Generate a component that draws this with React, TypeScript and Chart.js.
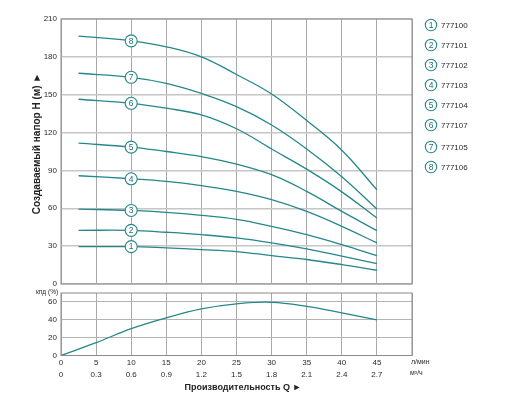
import { useEffect, useRef } from "react";
import { Chart, registerables } from "chart.js";

Chart.register(...registerables);

// ---------- data ----------
const flowPoints = [2.5, 10, 15, 20, 25, 30, 35, 40, 45]; // л/мин
const head1 = [29.6, 29.6, 28.6, 27.3, 25.7, 22.5, 19.4, 15.4, 10.9];
const head2 = [42.5, 42.5, 41, 39.1, 36.5, 32.6, 27.8, 22, 16.2];
const head3 = [59.4, 58.3, 56.8, 54.4, 51.2, 45.7, 39.1, 31.2, 22.5];
const head4 = [85.8, 83.4, 81.3, 77.9, 73.4, 66.8, 57.5, 45.7, 32.6];
const head5 = [111.6, 108.5, 105, 101, 95, 86.6, 73.4, 57.5, 42.3];
const head6 = [146.4, 143.2, 139.3, 134, 123, 107, 91, 73, 52.3];
const head7 = [167, 163.8, 159, 151, 140.5, 126, 107, 85, 59.4];
const head8 = [196.4, 192.7, 188, 180, 166, 150.6, 129.5, 106, 74.7];
const headSeries = [head1, head2, head3, head4, head5, head6, head7, head8];
const curveNumbers = ["1", "2", "3", "4", "5", "6", "7", "8"];
const modelCodes = ["777100", "777101", "777102", "777103", "777104", "777107", "777105", "777106"];
const markerFlow = 10;

const effFlow = [0, 5, 10, 15, 20, 25, 30, 35, 40, 45];
const effValues = [0, 14.4, 30, 42.2, 52.2, 57.8, 59.6, 55.1, 47.8, 40];

const flowMax = 50;
const flowStep = 5;
const headMax = 210;
const headStep = 30;
const effMax = 70;
const effStep = 10;
const effLabelStep = 20;
const lpmToM3h = 0.06;

const yTitle = "Создаваемый напор H (м) ►";
const xTitle = "Производительность Q ►";
const effTitle = "кпд (%)";
const unitLpm = "л/мин";
const unitM3h = "м³/ч";

// ---------- style ----------
const FONT = "'Liberation Sans', Arial, sans-serif";
const TEAL = "#24878a";
const VGRID = "#a9a9a9";
const HGRID = "#c6c6c6";
const FRAME = "#8a8a8a";
const TEXT = "#2a2a2a";

const framePlugin = {
  id: "frame",
  afterDraw(chart: any) {
    const { ctx, chartArea: a } = chart;
    ctx.save();
    ctx.strokeStyle = FRAME;
    ctx.lineWidth = 1;
    ctx.strokeRect(a.left, a.top, a.right - a.left, a.bottom - a.top);
    ctx.restore();
  },
};

function drawBadge(ctx: any, x: number, y: number, r: number, txt: string) {
  ctx.beginPath();
  ctx.arc(x, y, r, 0, Math.PI * 2);
  ctx.fillStyle = "#ffffff";
  ctx.fill();
  ctx.lineWidth = 1.1;
  ctx.strokeStyle = TEAL;
  ctx.stroke();
  ctx.fillStyle = "#1f6f70";
  ctx.font = `8.5px ${FONT}`;
  ctx.textAlign = "center";
  ctx.textBaseline = "middle";
  ctx.fillText(txt, x, y + 0.5);
}

const markerPlugin = {
  id: "markers",
  afterDatasetsDraw(chart: any) {
    const { ctx } = chart;
    const idx = flowPoints.indexOf(markerFlow);
    ctx.save();
    chart.data.datasets.forEach((_d: any, i: number) => {
      const p = chart.getDatasetMeta(i).data[idx];
      if (p) drawBadge(ctx, p.x, p.y, 6, curveNumbers[i]);
    });
    ctx.restore();
  },
};

const legendPlugin = {
  id: "sideLegend",
  afterDraw(chart: any) {
    const { ctx, chartArea: a } = chart;
    ctx.save();
    modelCodes.forEach((code, i) => {
      const cy = a.top + 6 + i * 20 + (i >= 6 ? 2 : 0);
      const cx = a.right + 19;
      drawBadge(ctx, cx, cy, 5.7, curveNumbers[i]);
      ctx.fillStyle = TEXT;
      ctx.font = `8px ${FONT}`;
      ctx.textAlign = "left";
      ctx.textBaseline = "middle";
      ctx.fillText(code, cx + 10, cy + 0.5);
    });
    // rotated y-axis title
    ctx.translate(a.left - 24, (a.top + a.bottom) / 2 - 8);
    ctx.rotate(-Math.PI / 2);
    ctx.fillStyle = "#222";
    ctx.font = `bold 10px ${FONT}`;
    ctx.textAlign = "center";
    ctx.textBaseline = "middle";
    ctx.fillText(yTitle, 0, 0);
    ctx.restore();
  },
};

const effTextPlugin = {
  id: "effText",
  afterDraw(chart: any) {
    const { ctx, chartArea: a } = chart;
    ctx.save();
    ctx.fillStyle = TEXT;
    ctx.textBaseline = "middle";
    ctx.textAlign = "left";
    ctx.font = `6.5px ${FONT}`;
    ctx.fillText(effTitle, a.left - 25, a.top - 1);
    ctx.font = `7px ${FONT}`;
    ctx.fillText(unitLpm, a.right - 1, a.bottom + 6.5);
    ctx.fillText(unitM3h, a.right - 2, a.bottom + 17.5);
    ctx.fillStyle = "#222";
    ctx.font = `bold 9px ${FONT}`;
    ctx.textAlign = "center";
    ctx.fillText(xTitle, (a.left + a.right) / 2 + 6.5, a.bottom + 32.5);
    ctx.restore();
  },
};

export default function App() {
  const headRef = useRef<HTMLCanvasElement>(null);
  const effRef = useRef<HTMLCanvasElement>(null);

  useEffect(() => {
    Chart.defaults.font.family = FONT;
    Chart.defaults.color = TEXT;

    const headChart = new Chart(headRef.current!, {
      type: "line",
      data: {
        datasets: headSeries.map((s, i) => ({
          label: modelCodes[i],
          data: flowPoints.map((q, j) => ({ x: q, y: s[j] })),
          borderColor: TEAL,
          borderWidth: 1.3,
          pointRadius: 0,
          fill: false,
          tension: 0.4,
        })),
      },
      options: {
        responsive: false,
        animation: false,
        layout: { padding: { left: 31, top: 19, right: 100, bottom: 122 } },
        plugins: { legend: { display: false }, tooltip: { enabled: false } },
        scales: {
          x: {
            type: "linear",
            min: 0,
            max: flowMax,
            ticks: { display: false, stepSize: flowStep },
            grid: { color: VGRID, lineWidth: 1, drawTicks: false },
            border: { display: false },
            afterFit: (s: any) => {
              s.height = 0;
            },
          },
          y: {
            min: 0,
            max: headMax,
            ticks: { stepSize: headStep, font: { size: 8 }, padding: 4, color: TEXT },
            grid: { color: HGRID, lineWidth: 1.5, drawTicks: false },
            border: { display: false },
            afterFit: (s: any) => {
              s.width = 30;
            },
          },
        },
      },
      plugins: [framePlugin, markerPlugin, legendPlugin],
    });

    const effChart = new Chart(effRef.current!, {
      type: "line",
      data: {
        datasets: [
          {
            label: effTitle,
            data: effFlow.map((q, j) => ({ x: q, y: effValues[j] })),
            borderColor: TEAL,
            borderWidth: 1.3,
            pointRadius: 0,
            fill: false,
            tension: 0.4,
          },
        ],
      },
      options: {
        responsive: false,
        animation: false,
        layout: { padding: { left: 31, top: 293, right: 100, bottom: 8.5 } },
        plugins: { legend: { display: false }, tooltip: { enabled: false } },
        scales: {
          x: {
            type: "linear",
            position: "bottom",
            weight: 0,
            min: 0,
            max: flowMax,
            ticks: {
              stepSize: flowStep,
              font: { size: 8 },
              padding: 2,
              color: TEXT,
              maxRotation: 0,
              callback: (v: any) => (v === flowMax ? "" : String(v)),
            },
            grid: { color: VGRID, lineWidth: 1, drawTicks: false },
            border: { display: false },
            afterFit: (s: any) => {
              s.height = 12;
            },
          },
          x2: {
            type: "linear",
            position: "bottom",
            weight: 1,
            min: 0,
            max: flowMax,
            ticks: {
              stepSize: flowStep,
              font: { size: 8 },
              padding: 2,
              color: TEXT,
              maxRotation: 0,
              callback: (v: any) =>
                v === flowMax ? "" : v === 0 ? "0" : (v * lpmToM3h).toFixed(1),
            },
            grid: { display: false, drawTicks: false },
            border: { display: false },
            afterFit: (s: any) => {
              s.height = 30;
            },
          },
          y: {
            min: 0,
            max: effMax,
            ticks: {
              stepSize: effStep,
              font: { size: 8 },
              padding: 4,
              color: TEXT,
              callback: (v: any) => (v % effLabelStep === 0 && v !== effMax ? String(v) : ""),
            },
            grid: { color: "#b4b4b4", lineWidth: 1, drawTicks: false },
            border: { display: false },
            afterFit: (s: any) => {
              s.width = 30;
            },
          },
        },
      },
      plugins: [framePlugin, effTextPlugin],
    });

    return () => {
      headChart.destroy();
      effChart.destroy();
    };
  }, []);

  return (
    <div style={{ position: "fixed", left: 0, top: 0, width: 512, height: 406, background: "#fff" }}>
      <canvas ref={headRef} width={512} height={406} style={{ position: "absolute", left: 0, top: 0 }} />
      <canvas ref={effRef} width={512} height={406} style={{ position: "absolute", left: 0, top: 0 }} />
    </div>
  );
}
